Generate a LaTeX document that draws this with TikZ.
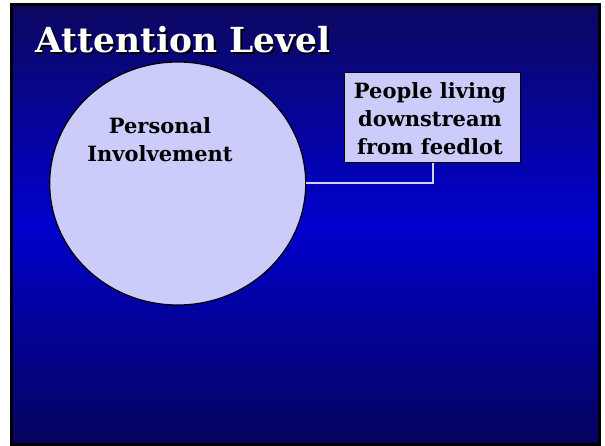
\documentclass[tikz,border=0pt]{standalone}
\usepackage{fontspec}
\setmainfont{DejaVu Serif}
\usetikzlibrary{shapes.geometric,calc}
\definecolor{bgtop}{RGB}{12,8,96}
\definecolor{bgmid}{RGB}{0,0,204}
\definecolor{bgbot}{RGB}{6,4,92}
\definecolor{lav}{RGB}{204,204,250}
\definecolor{linkc}{RGB}{210,210,250}
\tikzset{
  slideframe/.style={draw=black,line width=3pt,top color=bgtop,bottom color=bgbot,middle color=bgmid},
  bubble/.style={ellipse,draw=black,line width=1.2pt,fill=lav,inner sep=0pt},
  notebox/.style={rectangle,draw=black,line width=1.5pt,fill=lav,inner sep=0pt},
  bodytext/.style={font=\bfseries\fontsize{21}{28}\selectfont,text=black,align=center,inner sep=0pt},
  titletext/.style={font=\bfseries\fontsize{34.5}{38}\selectfont,inner sep=0pt},
  link/.style={draw=linkc,line width=2pt}
}
\begin{document}
\begin{tikzpicture}[x=1pt,y=-1pt]
\useasboundingbox (0,0) rectangle (605,446);
\fill[white] (0,0) rectangle (605,446);
\path[slideframe] (11.5,4.5) rectangle (599.5,444.5);
% title with shadow
\node[titletext,text=black,anchor=base west] (titleshadow) at (37,55) {Attention Level};
\node[titletext,text=white,anchor=base west] (title) at (35,53) {Attention Level};
% circle
\node[bubble,minimum width=256pt,minimum height=243pt] (circ) at (177.7,183.5) {};
\node[bodytext] (circtext) at (160,140) {Personal\\Involvement};
% box
\node[notebox,minimum width=176pt,minimum height=90pt] (box) at (432.5,117.5) {};
\node[bodytext] (boxtext) at (430,119) {People living\\downstream\\from feedlot};
% connector
\draw[link] (circ.east) -| (box.south);
\end{tikzpicture}
\end{document}
